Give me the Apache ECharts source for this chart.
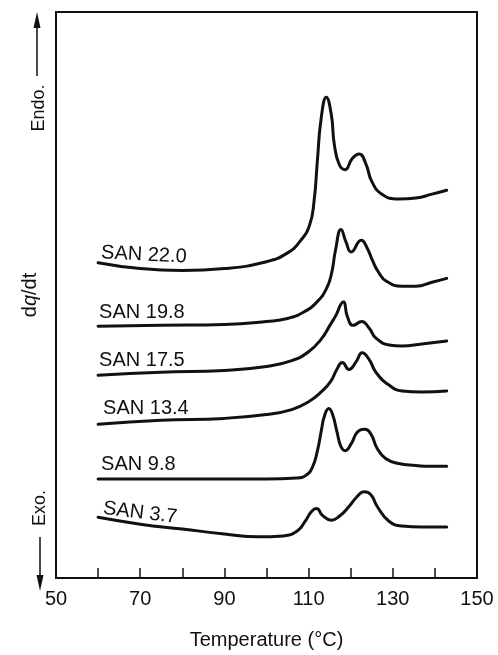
<!DOCTYPE html>
<html>
<head>
<meta charset="utf-8">
<script src="https://cdn.jsdelivr.net/npm/echarts@6/dist/echarts.min.js"></script>
<style>
  html, body { margin: 0; padding: 0; background: #fff; }
  #chart { width: 498px; height: 655px; }
</style>
</head>
<body>
<div id="chart"></div>
<script>
// Temperature (°C) vs. dq/dt (arbitrary units)
const xTickLabels = [50, 70, 90, 110, 130, 150];
const seriesNames = ['SAN 22.0', 'SAN 19.8', 'SAN 17.5', 'SAN 13.4', 'SAN 9.8', 'SAN 3.7'];

const san220 = [[60,322],[70,316],[80,314],[90,316],[100,323],[105,332],[108,344],[110.2,360],[111.3,385],[112.1,427],[113,470],[114.2,491],[115.4,473],[116.1,443],[117.3,422],[118.7,417],[120.3,428],[122,433],[123.6,423],[125,405],[127.4,392],[131.4,387],[135.5,388],[139.3,392],[142.8,396]];
const san198 = [[60,257],[75,258],[90,259],[100,262],[105,265],[109,272],[112,282],[114.3,296],[115.5,312],[116.4,335],[117.7,356],[118.9,343],[120.1,333],[122.5,345],[123.9,337],[125.2,324],[126.5,313],[128.5,303],[132.2,298],[135.5,298],[139.3,302],[142.8,306]];
const san175 = [[60,207],[75,210],[90,212],[100,216],[106,222],[110,231],[113,244],[115.2,259],[116.7,270],[117.6,279],[118.3,282],[119.2,267],[120.6,258],[122.6,262],[124.4,255],[126,245],[129.1,238],[132.2,237],[136.9,239],[142.8,242]];
const san134 = [[60,157],[75,161],[90,163],[100,167],[106,172],[110,180],[113,190],[115.3,201],[116.7,213],[118,220],[119.6,213],[121.3,221],[122.7,230],[124.4,223],[126,210],[129.1,197],[132.2,191],[136.9,190],[142.8,191]];
const san98  = [[60,101],[80,101],[100,101],[107.1,102],[109.4,105],[110.9,113],[112.1,130],[113,150],[113.8,166],[114.8,173],[115.7,167],[116.7,150],[117.7,134],[118.7,130],[120.1,137],[121.6,149],[123.2,152],[124.8,147],[126.2,133],[128.3,122],[131.4,117],[135.5,115],[138.6,114],[142.8,114]];
const san37  = [[60,62],[70,55],[80,50],[90,45],[98,42],[104,43],[107.3,48],[109.2,58],[110.7,68],[111.9,71],[113.3,64],[115.4,59],[117.3,63],[119.6,73],[121.5,83],[123.2,88],[124.8,85],[126.3,73],[129.1,58],[132.2,53],[136.9,52],[142.8,52]];

const allSeries = [san220, san198, san175, san134, san98, san37];
// label placement relative to each curve's first point (pixels) and tilt (degrees)
const labelOffsets = [[3,-10,-3],[1,-14,0],[1,-15,0],[5,-16,0],[3,-15,0],[5,-9,-7]];

const FONT = '"Liberation Sans", Arial, Helvetica, sans-serif';
const INK = '#111';

const chart = echarts.init(document.getElementById('chart'), null, { renderer: 'canvas' });

const option = {
  animation: false,
  backgroundColor: '#fff',
  grid: { left: 56, right: 21, top: 12, bottom: 65, show: true, borderColor: INK, borderWidth: 2, backgroundColor: 'transparent' },
  xAxis: {
    type: 'value', min: 50, max: 150, interval: 10,
    name: 'Temperature (°C)', nameLocation: 'middle', nameGap: 52,
    nameTextStyle: { fontFamily: FONT, fontSize: 20, color: INK },
    axisLine: { show: true, lineStyle: { color: INK, width: 2 } },
    axisTick: { show: true, inside: true, length: 10, lineStyle: { color: INK, width: 1.5 } },
    axisLabel: {
      margin: 11, fontFamily: FONT, fontSize: 20, color: INK,
      formatter: v => (xTickLabels.indexOf(v) >= 0 ? String(v) : '')
    },
    splitLine: { show: false }
  },
  yAxis: {
    type: 'value', min: 0, max: 578,
    name: '{a|d}{b|q}{a|/dt}', nameLocation: 'middle', nameGap: 16,
    nameRotate: 90,
    nameTextStyle: {
      rich: {
        a: { fontFamily: FONT, fontSize: 20, color: INK },
        b: { fontFamily: FONT, fontSize: 20, color: INK, fontStyle: 'italic' }
      }
    },
    axisLine: { show: true, lineStyle: { color: INK, width: 2 } },
    axisTick: { show: false },
    axisLabel: { show: false },
    splitLine: { show: false }
  },
  series: allSeries.map((d, i) => ({
    name: seriesNames[i],
    type: 'line',
    data: d,
    smooth: 0.5,
    showSymbol: false,
    symbol: 'none',
    lineStyle: { color: INK, width: 3, cap: 'round', join: 'round' }
  }))
};
chart.setOption(option);

// Labels at the start of each trace, plus Endo./Exo. arrows
const graphics = [];
allSeries.forEach((d, i) => {
  const p = chart.convertToPixel({ gridIndex: 0 }, d[0]);
  const o = labelOffsets[i];
  graphics.push({
    type: 'text', x: p[0] + o[0], y: p[1] + o[1], rotation: o[2] * Math.PI / 180,
    style: { text: seriesNames[i], fontFamily: FONT, fontSize: 20, fill: INK, textAlign: 'left', textVerticalAlign: 'middle' }
  });
});
graphics.push(
  { type: 'line', shape: { x1: 37, y1: 76, x2: 37, y2: 24 }, style: { stroke: INK, lineWidth: 1.5 } },
  { type: 'polygon', shape: { points: [[37, 12], [33.5, 28], [40.5, 28]] }, style: { fill: INK } },
  { type: 'text', x: 39, y: 108, rotation: Math.PI / 2,
    style: { text: 'Endo.', fontFamily: FONT, fontSize: 18, fill: INK, textAlign: 'center', textVerticalAlign: 'middle' } },
  { type: 'text', x: 40, y: 508, rotation: Math.PI / 2,
    style: { text: 'Exo.', fontFamily: FONT, fontSize: 18, fill: INK, textAlign: 'center', textVerticalAlign: 'middle' } },
  { type: 'line', shape: { x1: 40, y1: 537, x2: 40, y2: 578 }, style: { stroke: INK, lineWidth: 1.5 } },
  { type: 'polygon', shape: { points: [[40, 591], [36.5, 575], [43.5, 575]] }, style: { fill: INK } }
);
chart.setOption({ graphic: graphics });
</script>
</body>
</html>
